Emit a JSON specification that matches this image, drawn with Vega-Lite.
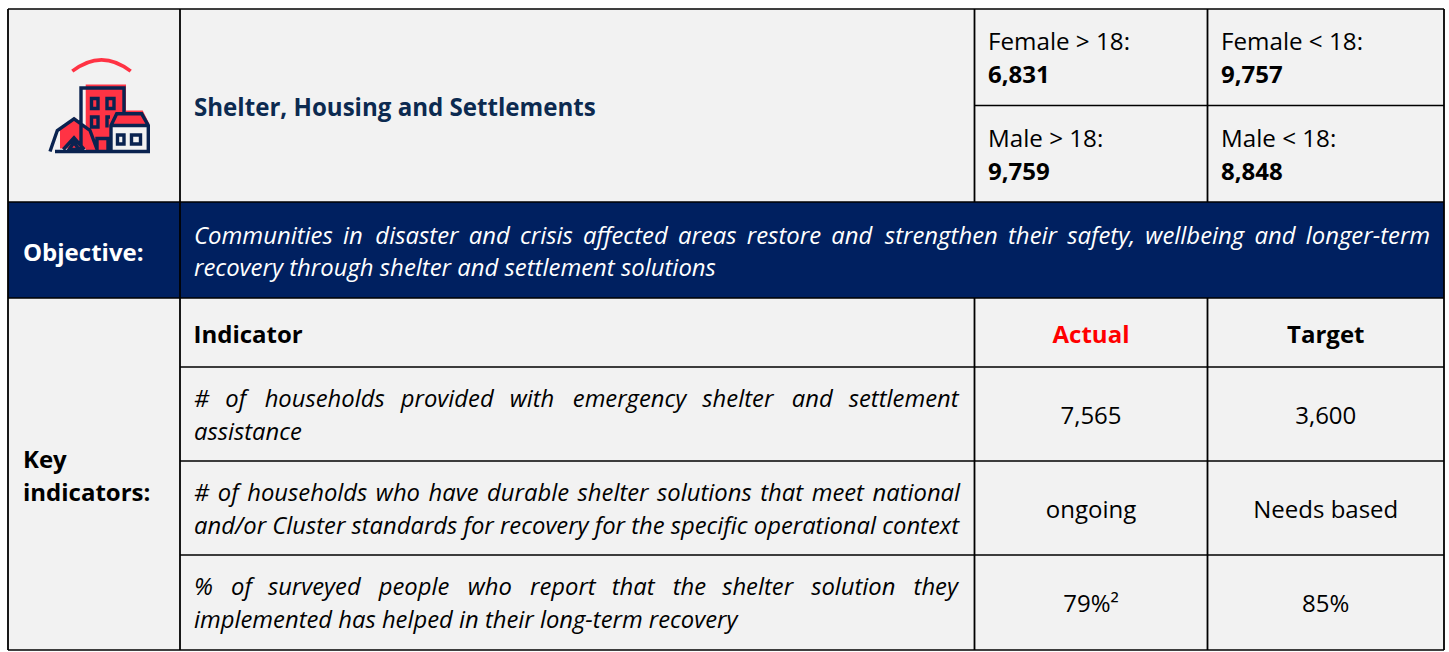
{"$schema":"https://vega.github.io/schema/vega-lite/v6.json","width":1449,"height":652,"padding":0,"autosize":{"type":"none"},"background":"white","view":{"stroke":null},"config":{"text":{"font":"Open Sans","fontSize":24,"color":"#000000","baseline":"middle"}},
"datasets":{
"cells":[{"col":0,"col2":4,"row":0,"row2":2,"part":"Shelter"},{"col":0,"col2":4,"row":3,"row2":7,"part":"Indicators"}],
"band":[{"col":0,"col2":4,"row":2,"row2":3,"part":"Objective"}],
"vertical":[{"col":0,"row":0,"row2":7},{"col":1,"row":0,"row2":7},{"col":2,"row":0,"row2":2},{"col":3,"row":0,"row2":2},{"col":2,"row":3,"row2":7},{"col":3,"row":3,"row2":7},{"col":4,"row":0,"row2":7}],
"horizontal":[{"row":0,"col":0,"col2":4},{"row":1,"col":2,"col2":4},{"row":2,"col":0,"col2":4},{"row":3,"col":0,"col2":4},{"row":4,"col":1,"col2":4},{"row":5,"col":1,"col2":4},{"row":6,"col":1,"col2":4},{"row":7,"col":0,"col2":4}],
"icon":[{"col":0.5,"row":1,"name":"Shelter icon"}],
"title":[{"col":1,"row":1,"text":"Shelter, Housing and Settlements"}],
"breakdownLabel":[{"col":2,"row":0.5,"text":"Female > 18:"},{"col":3,"row":0.5,"text":"Female < 18:"},{"col":2,"row":1.51,"text":"Male > 18:"},{"col":3,"row":1.51,"text":"Male < 18:"}],
"breakdownValue":[{"col":2,"row":0.5,"text":"6,831"},{"col":3,"row":0.5,"text":"9,757"},{"col":2,"row":1.51,"text":"9,759"},{"col":3,"row":1.51,"text":"8,848"}],
"sideHead":[{"col":0,"row":2.5,"text":"Objective:"}],
"keyHead":[{"col":0,"row":5,"text":["Key","indicators:"]}],
"indicatorHead":[{"col":1,"row":3.5,"text":"Indicator"}],
"objective":[{"col":1,"row":2.5,"text":["Communities \u2009in \u2009\u200adisaster \u2009and \u2009crisis \u2009affected \u2009areas \u2009restore \u2009and \u2009\u200astrengthen \u2009their \u2009safety, \u2009wellbeing \u2009and \u2009longer-term","recovery through shelter and settlement solutions"]}],
"indicators":[{"col":1,"row":4.5,"text":["# \u2005\u2009of \u2005\u2009\u200ahouseholds \u2005\u2009provided \u2005\u2009with \u2005\u2009\u200aemergency \u2005\u2009shelter \u2005\u2009\u200aand \u2005\u2009settlement","assistance"]},{"col":1,"row":5.5,"text":["# \u200aof \u200ahouseholds \u200awho \u200ahave \u200adurable \u200ashelter \u200asolutions \u200athat \u200ameet \u200anational","and/or Cluster standards for recovery for the specific operational context"]},{"col":1,"row":6.5,"text":["% \u2005\u2005of \u2005\u2009surveyed \u2005\u2005people \u2005\u2009\u200awho \u2005\u2005report \u2005\u2009that \u2005\u2005the \u2005\u2009shelter \u2005\u2005solution \u2005\u2005they","implemented has helped in their long-term recovery"]}],
"heads":[{"col":2.5,"row":3.5,"text":"Actual","tone":"red"},{"col":3.5,"row":3.5,"text":"Target","tone":"dark"}],
"values":[{"col":2.5,"row":4.5,"text":"7,565"},{"col":3.5,"row":4.5,"text":"3,600"},{"col":2.5,"row":5.5,"text":"ongoing"},{"col":3.5,"row":5.5,"text":"Needs based"},{"col":2.5,"row":6.5,"text":"79%²"},{"col":3.5,"row":6.5,"text":"85%"}]
},
"encoding":{
"x":{"field":"col","type":"quantitative","axis":null,"scale":{"domain":[0,1,2,3,4],"range":[8,180,974.5,1207.5,1444]}},
"y":{"field":"row","type":"quantitative","axis":null,"scale":{"domain":[0,1,2,3,4,5,6,7],"range":[9,105.5,202,298,367,461,555,650]}}
},
"layer":[
{"data":{"name":"cells"},"mark":{"type":"rect","color":"#f2f2f2"},"encoding":{"x2":{"field":"col2"},"y2":{"field":"row2"}}},
{"data":{"name":"band"},"mark":{"type":"rect","color":"#002060"},"encoding":{"x2":{"field":"col2"},"y2":{"field":"row2"}}},
{"data":{"name":"vertical"},"mark":{"type":"rule","color":"#000000","strokeWidth":1.8},"encoding":{"y2":{"field":"row2"}}},
{"data":{"name":"horizontal"},"mark":{"type":"rule","color":"#000000","strokeWidth":1.7},"encoding":{"x2":{"field":"col2"}}},
{"data":{"name":"icon"},"mark":{"type":"point","filled":true,"opacity":1,"size":4,"color":"#ff3344","shape":"M-8.3 -21H32V5H48.7L55.7 19L17 20V45H-8.3ZM-34 24L-19 12L-4 25L0 43H-34Z"}},
{"data":{"name":"icon"},"mark":{"type":"point","filled":false,"opacity":1,"size":4,"color":"#ff3344","strokeWidth":3.6,"shape":"M-21.7 -34.3Q7.5 -57.1 36.7 -34.3"}},
{"data":{"name":"icon"},"mark":{"type":"point","filled":false,"opacity":1,"size":4,"color":"#0a2350","strokeWidth":3.4,"shape":"M-13 45V-17.5H30V8M-2.5 -7H4V3H-2.5ZM13 -7H20V3H13ZM-2.5 11.5H4V21.5H-2.5ZM16 11.5H13V22M3 45V33H14V45M17 20L22.7 8.3H47.7L54.3 20V46H17ZM17 20H54.3M23.5 29.5H30V38.5H23.5ZM37.5 29.5H46.5V38.5H37.5ZM-44 46L-36.7 25L-20 13.3L-4 25L2.7 43M-39 46H17M-30.7 44L-20 32.3L-9.7 44M-25 44H-15L-20 37Z"}},
{"data":{"name":"title"},"mark":{"type":"text","align":"left","dx":14,"dy":3.5,"fontWeight":"bold","color":"#0c2a50","fontSize":24.1},"encoding":{"text":{"field":"text"}}},
{"data":{"name":"breakdownLabel"},"mark":{"type":"text","align":"left","dx":13.5,"dy":-14.5,"fontSize":24.2},"encoding":{"text":{"field":"text"}}},
{"data":{"name":"breakdownValue"},"mark":{"type":"text","align":"left","dx":13.5,"dy":18.5,"fontWeight":"bold"},"encoding":{"text":{"field":"text"}}},
{"data":{"name":"sideHead"},"mark":{"type":"text","align":"left","dx":15,"dy":4,"fontWeight":"bold","color":"#ffffff"},"encoding":{"text":{"field":"text"}}},
{"data":{"name":"keyHead"},"mark":{"type":"text","align":"left","dx":15,"dy":0,"fontWeight":"bold","lineHeight":33},"encoding":{"text":{"field":"text"}}},
{"data":{"name":"indicatorHead"},"mark":{"type":"text","align":"left","dx":13.5,"dy":3,"fontWeight":"bold"},"encoding":{"text":{"field":"text"}}},
{"data":{"name":"objective"},"mark":{"type":"text","align":"left","dx":14,"dy":-13,"fontStyle":"italic","color":"#ffffff","lineHeight":32,"fontSize":23.9},"encoding":{"text":{"field":"text"}}},
{"data":{"name":"indicators"},"mark":{"type":"text","align":"left","dx":14,"dy":-14.5,"fontStyle":"italic","lineHeight":33,"fontSize":23.8},"encoding":{"text":{"field":"text"}}},
{"data":{"name":"heads"},"mark":{"type":"text","align":"center","dy":3,"fontWeight":"bold"},"encoding":{"text":{"field":"text"},"color":{"field":"tone","type":"nominal","legend":null,"scale":{"domain":["dark","red"],"range":["#000000","#ff0000"]}}}},
{"data":{"name":"values"},"mark":{"type":"text","align":"center","dy":2.5},"encoding":{"text":{"field":"text"}}}
]}
